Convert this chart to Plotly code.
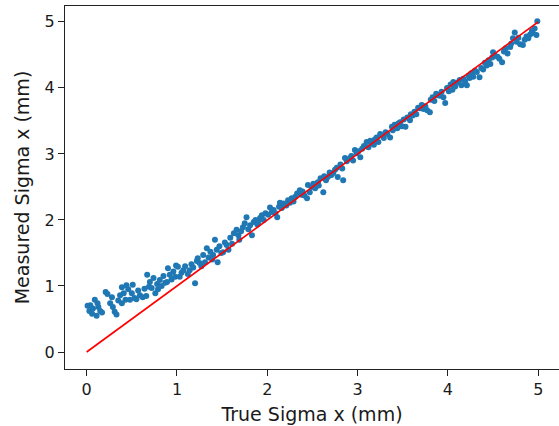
import plotly.graph_objects as go

true_sigma = [
    0.01, 0.03, 0.04, 0.06, 0.07, 0.09,
    0.11, 0.12, 0.13, 0.15, 0.17,
    0.21, 0.23, 0.26, 0.28, 0.29,
    0.31, 0.33, 0.35, 0.37, 0.39, 0.39,
    0.41, 0.43, 0.44, 0.46, 0.48, 0.50,
    0.51, 0.53, 0.55, 0.57, 0.59,
    0.62, 0.64, 0.66, 0.67, 0.69, 0.70,
    0.72, 0.74, 0.76, 0.78, 0.79,
    0.81, 0.83, 0.85, 0.87, 0.89, 0.90,
    0.92, 0.94, 0.96, 0.98, 0.99,
    1.01, 1.03, 1.05, 1.07, 1.09,
    1.12, 1.14, 1.16, 1.18, 1.20,
    1.22, 1.23, 1.25, 1.27, 1.29,
    1.31, 1.33, 1.35, 1.37, 1.39,
    1.40, 1.42, 1.44, 1.45, 1.47, 1.49,
    1.51, 1.53, 1.55, 1.57, 1.59,
    1.61, 1.63, 1.66, 1.68, 1.69,
    1.71, 1.73, 1.75, 1.77, 1.79,
    1.81, 1.83, 1.85, 1.87, 1.89,
    1.90, 1.92, 1.94, 1.96, 1.98,
    2.01, 2.03, 2.05, 2.07, 2.09,
    2.11, 2.13, 2.14, 2.16, 2.18,
    2.21, 2.23, 2.25, 2.27, 2.29,
    2.31, 2.33, 2.36, 2.38, 2.39,
    2.41, 2.44, 2.45, 2.47, 2.49,
    2.51, 2.53, 2.56, 2.57, 2.59,
    2.62, 2.63, 2.65, 2.67, 2.69,
    2.71, 2.73, 2.75, 2.77, 2.78,
    2.81, 2.83, 2.84, 2.86, 2.88,
    2.91, 2.93, 2.95, 2.97, 2.99,
    3.01, 3.03, 3.05, 3.07, 3.10,
    3.12, 3.14, 3.16, 3.18, 3.19,
    3.21, 3.23, 3.25, 3.27, 3.29,
    3.31, 3.33, 3.36, 3.38, 3.39,
    3.41, 3.44, 3.45, 3.47, 3.49,
    3.51, 3.53, 3.55, 3.58, 3.59,
    3.61, 3.63, 3.65, 3.67, 3.69,
    3.71, 3.73, 3.75, 3.77, 3.80,
    3.81, 3.83, 3.85, 3.87, 3.88,
    3.91, 3.93, 3.95, 3.97, 3.99,
    4.01, 4.03, 4.05, 4.06, 4.08,
    4.11, 4.13, 4.15, 4.17, 4.19,
    4.21, 4.23, 4.24, 4.26, 4.28,
    4.30, 4.32, 4.35, 4.37, 4.39,
    4.41, 4.43, 4.45, 4.47, 4.49,
    4.50, 4.52, 4.55, 4.57, 4.60,
    4.62, 4.64, 4.66, 4.69, 4.70,
    4.72, 4.74, 4.76, 4.78, 4.80,
    4.83, 4.85, 4.87, 4.89, 4.91,
    4.93, 4.94, 4.96, 4.98, 4.99,
]

measured_sigma = [
    0.70, 0.62, 0.71, 0.58, 0.66, 0.79,
    0.55, 0.74, 0.68, 0.62, 0.60,
    0.91, 0.88, 0.74, 0.83, 0.68,
    0.61, 0.57, 0.78, 0.86, 0.98, 0.74,
    0.89, 0.79, 1.01, 0.95, 0.79, 0.89,
    1.02, 0.82, 0.80, 0.93, 0.86,
    0.83, 0.96, 0.85, 1.17, 0.99, 1.06,
    0.97, 1.12, 0.89, 1.03, 0.95,
    1.09, 1.00, 1.15, 1.05, 1.06, 1.27,
    1.17, 1.10, 1.22, 1.14, 1.31,
    1.29, 1.14, 1.20, 1.24, 1.30,
    1.18, 1.24, 1.33, 1.28, 1.04,
    1.38, 1.42, 1.35, 1.30, 1.47,
    1.36, 1.57, 1.43, 1.52, 1.40,
    1.47, 1.70, 1.55, 1.36, 1.60, 1.50,
    1.51, 1.66, 1.62, 1.55, 1.73,
    1.64, 1.80, 1.85, 1.77, 1.70,
    1.83, 1.89, 1.95, 2.04, 1.86,
    1.92, 1.77, 1.97, 2.00, 1.93,
    1.97, 2.03, 2.07, 2.00, 2.10,
    2.08, 2.19, 2.12, 2.15, 2.10,
    2.04, 2.20, 2.26, 2.18, 2.25,
    2.22, 2.30, 2.26, 2.33, 2.28,
    2.35, 2.40, 2.45, 2.38, 2.43,
    2.37, 2.33, 2.53, 2.42, 2.50,
    2.55, 2.48, 2.57, 2.52, 2.63,
    2.42, 2.66, 2.60, 2.65, 2.72,
    2.68, 2.71, 2.76, 2.79, 2.65,
    2.84, 2.78, 2.60, 2.94, 2.89,
    2.93, 2.97, 2.90, 3.06, 3.01,
    3.04, 2.95, 3.08, 3.12, 3.18,
    3.10, 3.20, 3.16, 3.14, 3.22,
    3.25, 3.18, 3.30, 3.28, 3.24,
    3.33, 3.30, 3.25, 3.41, 3.36,
    3.44, 3.39, 3.46, 3.48, 3.42,
    3.52, 3.41, 3.55, 3.51, 3.60,
    3.58, 3.64, 3.60, 3.70, 3.69,
    3.74, 3.68, 3.72, 3.66, 3.63,
    3.82, 3.86, 3.80, 3.91, 3.89,
    3.88, 3.94, 3.86, 3.77, 4.00,
    3.95, 4.05, 3.97, 4.09, 4.02,
    4.08, 4.12, 4.04, 4.14, 4.10,
    4.04, 4.18, 4.15, 4.22, 4.17,
    4.26, 4.24, 4.16, 4.30, 4.28,
    4.38, 4.34, 4.42, 4.36, 4.46,
    4.54, 4.49, 4.47, 4.44, 4.39,
    4.55, 4.60, 4.52, 4.62, 4.67,
    4.75, 4.84, 4.70, 4.76, 4.66,
    4.65, 4.73, 4.78, 4.75, 4.81,
    4.86, 4.83, 4.90, 4.80, 5.01,
]

line_x = [0, 5]
line_y = [0, 5]

x_ticks = [0, 1, 2, 3, 4, 5]
y_ticks = [0, 1, 2, 3, 4, 5]

font = dict(family="DejaVu Sans", size=16, color="#1a1a1a")

fig = go.Figure()
fig.add_trace(go.Scatter(
    x=true_sigma, y=measured_sigma, mode="markers",
    marker=dict(color="#1f77b4", size=6, line=dict(width=0)),
    showlegend=False,
))
fig.add_trace(go.Scatter(
    x=line_x, y=line_y, mode="lines",
    line=dict(color="#ff0000", width=1.7),
    showlegend=False,
))

fig.update_layout(
    width=559, height=426,
    margin=dict(l=65, r=0, t=6, b=57),
    plot_bgcolor="white", paper_bgcolor="white",
    font=font,
    xaxis=dict(
        range=[-0.24, 5.23], tickvals=x_ticks, ticks="outside", ticklen=6,
        tickwidth=1, tickcolor="#222", showline=True, linecolor="#222",
        linewidth=1, mirror=True, showgrid=False, zeroline=False,
        title=dict(text="True Sigma x (mm)", standoff=9),
    ),
    yaxis=dict(
        range=[-0.257, 5.24], tickvals=y_ticks, ticks="outside", ticklen=6,
        tickwidth=1, tickcolor="#222", showline=True, linecolor="#222",
        linewidth=1, mirror=False, showgrid=False, zeroline=False,
        title=dict(text="Measured Sigma x (mm)", standoff=9),
    ),
)

fig.write_html("out.html")
